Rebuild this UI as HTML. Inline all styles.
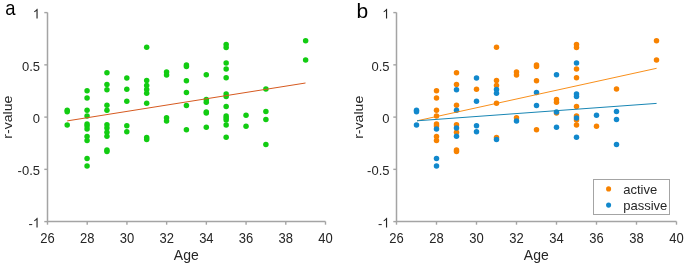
<!DOCTYPE html>
<html><head><meta charset="utf-8"><style>
html,body{margin:0;padding:0;background:#fff;}
body{width:685px;height:264px;overflow:hidden;}
svg{display:block;will-change:transform;}
text{font-family:"Liberation Sans",sans-serif;}
.tk{font-size:13px;fill:#262626;}
.lb{font-size:14px;fill:#262626;}
.lg{font-size:13px;fill:#262626;}
.pl{font-size:20px;fill:#000;}
</style></head><body>
<svg width="685" height="264" viewBox="0 0 685 264">
<path d="M47.5 12.5V221.5H325.5" fill="none" stroke="#a4a4a4" stroke-width="1.5"/>
<line x1="44.3" y1="12.60" x2="47.5" y2="12.60" stroke="#a4a4a4" stroke-width="1.4"/>
<path transform="translate(32.77 18.50) scale(0.006348 -0.006665)" fill="#262626" d="M763 0H583V1147Q518 1085 412.5 1023Q307 961 223 930V1104Q374 1175 487 1276Q600 1377 647 1472H763Z"/>
<line x1="44.3" y1="64.85" x2="47.5" y2="64.85" stroke="#a4a4a4" stroke-width="1.4"/>
<text transform="translate(40.0 70.75) scale(1 1.05)" text-anchor="end" class="tk">0.5</text>
<line x1="44.3" y1="117.10" x2="47.5" y2="117.10" stroke="#a4a4a4" stroke-width="1.4"/>
<text transform="translate(40.0 123.00) scale(1 1.05)" text-anchor="end" class="tk">0</text>
<line x1="44.3" y1="169.35" x2="47.5" y2="169.35" stroke="#a4a4a4" stroke-width="1.4"/>
<text transform="translate(40.0 175.25) scale(1 1.05)" text-anchor="end" class="tk">-0.5</text>
<line x1="44.3" y1="221.60" x2="47.5" y2="221.60" stroke="#a4a4a4" stroke-width="1.4"/>
<text transform="translate(32.77 227.50) scale(1 1.05)" text-anchor="end" class="tk">-</text>
<path transform="translate(32.77 227.50) scale(0.006348 -0.006665)" fill="#262626" d="M763 0H583V1147Q518 1085 412.5 1023Q307 961 223 930V1104Q374 1175 487 1276Q600 1377 647 1472H763Z"/>
<line x1="47.50" y1="221.5" x2="47.50" y2="224.7" stroke="#a4a4a4" stroke-width="1.4"/>
<text transform="translate(47.50 242.8) scale(1 1.06)" text-anchor="middle" class="tk">26</text>
<line x1="87.21" y1="221.5" x2="87.21" y2="224.7" stroke="#a4a4a4" stroke-width="1.4"/>
<text transform="translate(87.21 242.8) scale(1 1.06)" text-anchor="middle" class="tk">28</text>
<line x1="126.93" y1="221.5" x2="126.93" y2="224.7" stroke="#a4a4a4" stroke-width="1.4"/>
<text transform="translate(126.93 242.8) scale(1 1.06)" text-anchor="middle" class="tk">30</text>
<line x1="166.64" y1="221.5" x2="166.64" y2="224.7" stroke="#a4a4a4" stroke-width="1.4"/>
<text transform="translate(166.64 242.8) scale(1 1.06)" text-anchor="middle" class="tk">32</text>
<line x1="206.36" y1="221.5" x2="206.36" y2="224.7" stroke="#a4a4a4" stroke-width="1.4"/>
<text transform="translate(206.36 242.8) scale(1 1.06)" text-anchor="middle" class="tk">34</text>
<line x1="246.07" y1="221.5" x2="246.07" y2="224.7" stroke="#a4a4a4" stroke-width="1.4"/>
<text transform="translate(246.07 242.8) scale(1 1.06)" text-anchor="middle" class="tk">36</text>
<line x1="285.78" y1="221.5" x2="285.78" y2="224.7" stroke="#a4a4a4" stroke-width="1.4"/>
<text transform="translate(285.78 242.8) scale(1 1.06)" text-anchor="middle" class="tk">38</text>
<line x1="325.50" y1="221.5" x2="325.50" y2="224.7" stroke="#a4a4a4" stroke-width="1.4"/>
<text transform="translate(325.50 242.8) scale(1 1.06)" text-anchor="middle" class="tk">40</text>
<circle cx="67.20" cy="110.20" r="2.75" fill="#12cc12"/>
<circle cx="67.20" cy="111.80" r="2.75" fill="#12cc12"/>
<circle cx="67.20" cy="125.00" r="2.75" fill="#12cc12"/>
<circle cx="87.07" cy="90.65" r="2.75" fill="#12cc12"/>
<circle cx="87.07" cy="98.00" r="2.75" fill="#12cc12"/>
<circle cx="87.07" cy="110.30" r="2.75" fill="#12cc12"/>
<circle cx="87.07" cy="116.10" r="2.75" fill="#12cc12"/>
<circle cx="87.07" cy="123.90" r="2.75" fill="#12cc12"/>
<circle cx="87.07" cy="125.90" r="2.75" fill="#12cc12"/>
<circle cx="87.07" cy="136.40" r="2.75" fill="#12cc12"/>
<circle cx="87.07" cy="140.60" r="2.75" fill="#12cc12"/>
<circle cx="87.07" cy="129.10" r="2.75" fill="#12cc12"/>
<circle cx="87.07" cy="158.40" r="2.75" fill="#12cc12"/>
<circle cx="87.07" cy="165.90" r="2.75" fill="#12cc12"/>
<circle cx="106.94" cy="72.65" r="2.75" fill="#12cc12"/>
<circle cx="106.94" cy="84.60" r="2.75" fill="#12cc12"/>
<circle cx="106.94" cy="105.20" r="2.75" fill="#12cc12"/>
<circle cx="106.94" cy="124.70" r="2.75" fill="#12cc12"/>
<circle cx="106.94" cy="132.30" r="2.75" fill="#12cc12"/>
<circle cx="106.94" cy="149.90" r="2.75" fill="#12cc12"/>
<circle cx="106.94" cy="151.40" r="2.75" fill="#12cc12"/>
<circle cx="106.94" cy="89.70" r="2.75" fill="#12cc12"/>
<circle cx="106.94" cy="110.30" r="2.75" fill="#12cc12"/>
<circle cx="106.94" cy="128.10" r="2.75" fill="#12cc12"/>
<circle cx="106.94" cy="136.30" r="2.75" fill="#12cc12"/>
<circle cx="126.81" cy="89.15" r="2.75" fill="#12cc12"/>
<circle cx="126.81" cy="78.10" r="2.75" fill="#12cc12"/>
<circle cx="126.81" cy="101.30" r="2.75" fill="#12cc12"/>
<circle cx="126.81" cy="125.80" r="2.75" fill="#12cc12"/>
<circle cx="126.81" cy="131.70" r="2.75" fill="#12cc12"/>
<circle cx="146.68" cy="47.20" r="2.75" fill="#12cc12"/>
<circle cx="146.68" cy="80.40" r="2.75" fill="#12cc12"/>
<circle cx="146.68" cy="85.60" r="2.75" fill="#12cc12"/>
<circle cx="146.68" cy="103.15" r="2.75" fill="#12cc12"/>
<circle cx="146.68" cy="137.40" r="2.75" fill="#12cc12"/>
<circle cx="146.68" cy="89.60" r="2.75" fill="#12cc12"/>
<circle cx="146.68" cy="93.20" r="2.75" fill="#12cc12"/>
<circle cx="146.68" cy="139.50" r="2.75" fill="#12cc12"/>
<circle cx="166.55" cy="72.00" r="2.75" fill="#12cc12"/>
<circle cx="166.55" cy="75.00" r="2.75" fill="#12cc12"/>
<circle cx="166.55" cy="117.80" r="2.75" fill="#12cc12"/>
<circle cx="166.55" cy="120.90" r="2.75" fill="#12cc12"/>
<circle cx="186.42" cy="65.00" r="2.75" fill="#12cc12"/>
<circle cx="186.42" cy="66.40" r="2.75" fill="#12cc12"/>
<circle cx="186.42" cy="80.80" r="2.75" fill="#12cc12"/>
<circle cx="186.42" cy="129.70" r="2.75" fill="#12cc12"/>
<circle cx="186.42" cy="92.40" r="2.75" fill="#12cc12"/>
<circle cx="186.42" cy="105.40" r="2.75" fill="#12cc12"/>
<circle cx="206.29" cy="99.60" r="2.75" fill="#12cc12"/>
<circle cx="206.29" cy="102.20" r="2.75" fill="#12cc12"/>
<circle cx="206.29" cy="112.90" r="2.75" fill="#12cc12"/>
<circle cx="206.29" cy="74.70" r="2.75" fill="#12cc12"/>
<circle cx="206.29" cy="111.90" r="2.75" fill="#12cc12"/>
<circle cx="206.29" cy="127.30" r="2.75" fill="#12cc12"/>
<circle cx="226.16" cy="44.60" r="2.75" fill="#12cc12"/>
<circle cx="226.16" cy="47.40" r="2.75" fill="#12cc12"/>
<circle cx="226.16" cy="69.00" r="2.75" fill="#12cc12"/>
<circle cx="226.16" cy="77.80" r="2.75" fill="#12cc12"/>
<circle cx="226.16" cy="106.60" r="2.75" fill="#12cc12"/>
<circle cx="226.16" cy="116.10" r="2.75" fill="#12cc12"/>
<circle cx="226.16" cy="119.90" r="2.75" fill="#12cc12"/>
<circle cx="226.16" cy="125.10" r="2.75" fill="#12cc12"/>
<circle cx="226.16" cy="62.90" r="2.75" fill="#12cc12"/>
<circle cx="226.16" cy="93.90" r="2.75" fill="#12cc12"/>
<circle cx="226.16" cy="96.40" r="2.75" fill="#12cc12"/>
<circle cx="226.16" cy="117.90" r="2.75" fill="#12cc12"/>
<circle cx="226.16" cy="137.30" r="2.75" fill="#12cc12"/>
<circle cx="246.03" cy="126.30" r="2.75" fill="#12cc12"/>
<circle cx="246.03" cy="115.20" r="2.75" fill="#12cc12"/>
<circle cx="265.90" cy="89.10" r="2.75" fill="#12cc12"/>
<circle cx="265.90" cy="111.40" r="2.75" fill="#12cc12"/>
<circle cx="265.90" cy="119.40" r="2.75" fill="#12cc12"/>
<circle cx="265.90" cy="144.60" r="2.75" fill="#12cc12"/>
<circle cx="305.64" cy="40.70" r="2.75" fill="#12cc12"/>
<circle cx="305.64" cy="59.90" r="2.75" fill="#12cc12"/>
<line x1="67.2" y1="120.9" x2="305.5" y2="83.0" stroke="#d65a20" stroke-width="1.0"/>
<text transform="translate(186.3 260.3) scale(1 1.04)" text-anchor="middle" class="lb">Age</text>
<text transform="translate(11.8 117.15) rotate(-90) scale(1.06 1)" text-anchor="middle" class="lb" style="font-size:13.3px">r-value</text>
<text transform="translate(5.3 14.65) scale(0.9 1.02)" style="font-size:20.5px">a</text>
<path d="M396.5 12.5V221.5H676.5" fill="none" stroke="#a4a4a4" stroke-width="1.5"/>
<line x1="393.3" y1="12.60" x2="396.5" y2="12.60" stroke="#a4a4a4" stroke-width="1.4"/>
<path transform="translate(382.27 18.50) scale(0.006348 -0.006665)" fill="#262626" d="M763 0H583V1147Q518 1085 412.5 1023Q307 961 223 930V1104Q374 1175 487 1276Q600 1377 647 1472H763Z"/>
<line x1="393.3" y1="64.85" x2="396.5" y2="64.85" stroke="#a4a4a4" stroke-width="1.4"/>
<text transform="translate(389.5 70.75) scale(1 1.05)" text-anchor="end" class="tk">0.5</text>
<line x1="393.3" y1="117.10" x2="396.5" y2="117.10" stroke="#a4a4a4" stroke-width="1.4"/>
<text transform="translate(389.5 123.00) scale(1 1.05)" text-anchor="end" class="tk">0</text>
<line x1="393.3" y1="169.35" x2="396.5" y2="169.35" stroke="#a4a4a4" stroke-width="1.4"/>
<text transform="translate(389.5 175.25) scale(1 1.05)" text-anchor="end" class="tk">-0.5</text>
<line x1="393.3" y1="221.60" x2="396.5" y2="221.60" stroke="#a4a4a4" stroke-width="1.4"/>
<text transform="translate(382.27 227.50) scale(1 1.05)" text-anchor="end" class="tk">-</text>
<path transform="translate(382.27 227.50) scale(0.006348 -0.006665)" fill="#262626" d="M763 0H583V1147Q518 1085 412.5 1023Q307 961 223 930V1104Q374 1175 487 1276Q600 1377 647 1472H763Z"/>
<line x1="396.50" y1="221.5" x2="396.50" y2="224.7" stroke="#a4a4a4" stroke-width="1.4"/>
<text transform="translate(396.50 242.8) scale(1 1.06)" text-anchor="middle" class="tk">26</text>
<line x1="436.50" y1="221.5" x2="436.50" y2="224.7" stroke="#a4a4a4" stroke-width="1.4"/>
<text transform="translate(436.50 242.8) scale(1 1.06)" text-anchor="middle" class="tk">28</text>
<line x1="476.50" y1="221.5" x2="476.50" y2="224.7" stroke="#a4a4a4" stroke-width="1.4"/>
<text transform="translate(476.50 242.8) scale(1 1.06)" text-anchor="middle" class="tk">30</text>
<line x1="516.50" y1="221.5" x2="516.50" y2="224.7" stroke="#a4a4a4" stroke-width="1.4"/>
<text transform="translate(516.50 242.8) scale(1 1.06)" text-anchor="middle" class="tk">32</text>
<line x1="556.50" y1="221.5" x2="556.50" y2="224.7" stroke="#a4a4a4" stroke-width="1.4"/>
<text transform="translate(556.50 242.8) scale(1 1.06)" text-anchor="middle" class="tk">34</text>
<line x1="596.50" y1="221.5" x2="596.50" y2="224.7" stroke="#a4a4a4" stroke-width="1.4"/>
<text transform="translate(596.50 242.8) scale(1 1.06)" text-anchor="middle" class="tk">36</text>
<line x1="636.50" y1="221.5" x2="636.50" y2="224.7" stroke="#a4a4a4" stroke-width="1.4"/>
<text transform="translate(636.50 242.8) scale(1 1.06)" text-anchor="middle" class="tk">38</text>
<line x1="676.50" y1="221.5" x2="676.50" y2="224.7" stroke="#a4a4a4" stroke-width="1.4"/>
<text transform="translate(676.50 242.8) scale(1 1.06)" text-anchor="middle" class="tk">40</text>
<circle cx="436.50" cy="90.65" r="2.75" fill="#f78200"/>
<circle cx="436.50" cy="98.00" r="2.75" fill="#f78200"/>
<circle cx="436.50" cy="110.30" r="2.75" fill="#f78200"/>
<circle cx="436.50" cy="116.10" r="2.75" fill="#f78200"/>
<circle cx="436.50" cy="123.90" r="2.75" fill="#f78200"/>
<circle cx="436.50" cy="125.90" r="2.75" fill="#f78200"/>
<circle cx="436.50" cy="136.40" r="2.75" fill="#f78200"/>
<circle cx="436.50" cy="140.60" r="2.75" fill="#f78200"/>
<circle cx="456.50" cy="72.65" r="2.75" fill="#f78200"/>
<circle cx="456.50" cy="84.60" r="2.75" fill="#f78200"/>
<circle cx="456.50" cy="105.20" r="2.75" fill="#f78200"/>
<circle cx="456.50" cy="124.70" r="2.75" fill="#f78200"/>
<circle cx="456.50" cy="132.30" r="2.75" fill="#f78200"/>
<circle cx="456.50" cy="149.90" r="2.75" fill="#f78200"/>
<circle cx="456.50" cy="151.40" r="2.75" fill="#f78200"/>
<circle cx="476.50" cy="89.15" r="2.75" fill="#f78200"/>
<circle cx="496.50" cy="47.20" r="2.75" fill="#f78200"/>
<circle cx="496.50" cy="80.40" r="2.75" fill="#f78200"/>
<circle cx="496.50" cy="85.60" r="2.75" fill="#f78200"/>
<circle cx="496.50" cy="103.15" r="2.75" fill="#f78200"/>
<circle cx="496.50" cy="137.40" r="2.75" fill="#f78200"/>
<circle cx="516.50" cy="72.00" r="2.75" fill="#f78200"/>
<circle cx="516.50" cy="75.00" r="2.75" fill="#f78200"/>
<circle cx="516.50" cy="117.80" r="2.75" fill="#f78200"/>
<circle cx="536.50" cy="65.00" r="2.75" fill="#f78200"/>
<circle cx="536.50" cy="66.40" r="2.75" fill="#f78200"/>
<circle cx="536.50" cy="80.80" r="2.75" fill="#f78200"/>
<circle cx="536.50" cy="129.70" r="2.75" fill="#f78200"/>
<circle cx="556.50" cy="99.60" r="2.75" fill="#f78200"/>
<circle cx="556.50" cy="102.20" r="2.75" fill="#f78200"/>
<circle cx="556.50" cy="112.90" r="2.75" fill="#f78200"/>
<circle cx="576.50" cy="44.60" r="2.75" fill="#f78200"/>
<circle cx="576.50" cy="47.40" r="2.75" fill="#f78200"/>
<circle cx="576.50" cy="69.00" r="2.75" fill="#f78200"/>
<circle cx="576.50" cy="77.80" r="2.75" fill="#f78200"/>
<circle cx="576.50" cy="106.60" r="2.75" fill="#f78200"/>
<circle cx="576.50" cy="116.10" r="2.75" fill="#f78200"/>
<circle cx="576.50" cy="119.90" r="2.75" fill="#f78200"/>
<circle cx="576.50" cy="125.10" r="2.75" fill="#f78200"/>
<circle cx="596.50" cy="126.30" r="2.75" fill="#f78200"/>
<circle cx="616.50" cy="89.10" r="2.75" fill="#f78200"/>
<circle cx="656.50" cy="40.70" r="2.75" fill="#f78200"/>
<circle cx="656.50" cy="59.90" r="2.75" fill="#f78200"/>
<circle cx="416.50" cy="110.20" r="2.75" fill="#1188cc"/>
<circle cx="416.50" cy="111.80" r="2.75" fill="#1188cc"/>
<circle cx="416.50" cy="125.00" r="2.75" fill="#1188cc"/>
<circle cx="436.50" cy="129.10" r="2.75" fill="#1188cc"/>
<circle cx="436.50" cy="158.40" r="2.75" fill="#1188cc"/>
<circle cx="436.50" cy="165.90" r="2.75" fill="#1188cc"/>
<circle cx="456.50" cy="89.70" r="2.75" fill="#1188cc"/>
<circle cx="456.50" cy="110.30" r="2.75" fill="#1188cc"/>
<circle cx="456.50" cy="128.10" r="2.75" fill="#1188cc"/>
<circle cx="456.50" cy="136.30" r="2.75" fill="#1188cc"/>
<circle cx="476.50" cy="78.10" r="2.75" fill="#1188cc"/>
<circle cx="476.50" cy="101.30" r="2.75" fill="#1188cc"/>
<circle cx="476.50" cy="125.80" r="2.75" fill="#1188cc"/>
<circle cx="476.50" cy="131.70" r="2.75" fill="#1188cc"/>
<circle cx="496.50" cy="89.60" r="2.75" fill="#1188cc"/>
<circle cx="496.50" cy="93.20" r="2.75" fill="#1188cc"/>
<circle cx="496.50" cy="139.50" r="2.75" fill="#1188cc"/>
<circle cx="516.50" cy="120.90" r="2.75" fill="#1188cc"/>
<circle cx="536.50" cy="92.40" r="2.75" fill="#1188cc"/>
<circle cx="536.50" cy="105.40" r="2.75" fill="#1188cc"/>
<circle cx="556.50" cy="74.70" r="2.75" fill="#1188cc"/>
<circle cx="556.50" cy="111.90" r="2.75" fill="#1188cc"/>
<circle cx="556.50" cy="127.30" r="2.75" fill="#1188cc"/>
<circle cx="576.50" cy="62.90" r="2.75" fill="#1188cc"/>
<circle cx="576.50" cy="93.90" r="2.75" fill="#1188cc"/>
<circle cx="576.50" cy="96.40" r="2.75" fill="#1188cc"/>
<circle cx="576.50" cy="117.90" r="2.75" fill="#1188cc"/>
<circle cx="576.50" cy="137.30" r="2.75" fill="#1188cc"/>
<circle cx="596.50" cy="115.20" r="2.75" fill="#1188cc"/>
<circle cx="616.50" cy="111.40" r="2.75" fill="#1188cc"/>
<circle cx="616.50" cy="119.40" r="2.75" fill="#1188cc"/>
<circle cx="616.50" cy="144.60" r="2.75" fill="#1188cc"/>
<line x1="417" y1="120.8" x2="656.6" y2="68.3" stroke="#f78200" stroke-width="0.9"/>
<line x1="417" y1="120.8" x2="656.6" y2="103.4" stroke="#1886b4" stroke-width="1.0"/>
<text transform="translate(536.3 260.3) scale(1 1.04)" text-anchor="middle" class="lb">Age</text>
<text transform="translate(363.1 117.3) rotate(-90) scale(1.06 1)" text-anchor="middle" class="lb" style="font-size:13.3px">r-value</text>
<text transform="translate(356.6 17.5) scale(1.05 1)" class="pl">b</text>
<rect x="593.5" y="179.5" width="76" height="35" fill="#fff" stroke="#a4a4a4" stroke-width="1"/>
<circle cx="608.6" cy="188.9" r="2.55" fill="#f78200"/>
<circle cx="608.6" cy="205.1" r="2.55" fill="#1188cc"/>
<text x="623.2" y="194.3" class="lg">active</text>
<text x="623.2" y="210.1" class="lg">passive</text>
</svg>
</body></html>
